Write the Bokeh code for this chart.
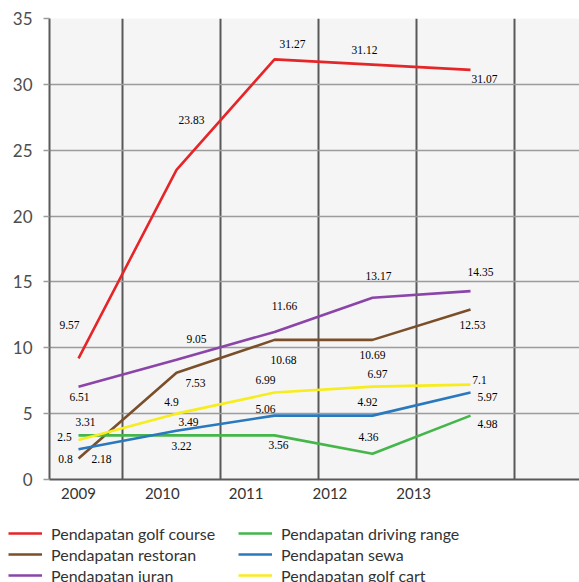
from bokeh.plotting import figure
from bokeh.layouts import column, row
from bokeh.models import (ColumnDataSource, FixedTicker, Legend, LegendItem,
                          LabelSet, Range1d)
from bokeh.embed import file_html
from bokeh.resources import INLINE

# ---------------- data ----------------
years = ["2009", "2010", "2011", "2012", "2013"]

series_names = [
    "Pendapatan golf course",
    "Pendapatan restoran",
    "Pendapatan iuran",
    "Pendapatan driving range",
    "Pendapatan sewa",
    "Pendapatan golf cart",
]

# values as drawn by the lines
golf_course = [9.2, 23.5, 31.9, 31.5, 31.1]
restoran = [1.6, 8.1, 10.6, 10.6, 12.9]
iuran = [7.05, 9.1, 11.2, 13.8, 14.3]
driving_range = [3.35, 3.35, 3.35, 1.95, 4.85]
sewa = [2.3, 3.7, 4.85, 4.85, 6.6]
golf_cart = [3.0, 5.0, 6.6, 7.05, 7.2]

# value labels printed on the chart
golf_course_labels = ["9.57", "23.83", "31.27", "31.12", "31.07"]
restoran_labels = ["0.8", "7.53", "10.68", "10.69", "12.53"]
iuran_labels = ["6.51", "9.05", "11.66", "13.17", "14.35"]
driving_range_labels = ["2.5", "3.49", "3.56", "4.36", "4.98"]
sewa_labels = ["2.18", "3.22", "5.06", "4.92", "5.97"]
golf_cart_labels = ["3.31", "4.9", "6.99", "6.97", "7.1"]

y_ticks = [0, 5, 10, 15, 20, 25, 30, 35]

# ---------------- styling / layout ----------------
colors = ["#e52528", "#7a4f2a", "#8b44a8", "#45b64a", "#2a78bd", "#f7ec1c"]

# label offsets in screen pixels (dx right, dy up) per series
label_dx = [
    [-9, 15, 18, -8, 14],
    [-13, 19, 9, 0, 2],
    [1, 20, 10, 6, 10],
    [-14, 12, 4, -4, 17],
    [23, 5, -9, -5, 17],
    [7, -5, -9, 5, 9],
]
label_dy = [
    [33, 50, 15, 15, -9],
    [-1, -10, -20, -15, -15],
    [-10, 21, 26, 22, 19],
    [-2, 13, -10, 17, -8],
    [-10, -15, 7, 14, -4],
    [18, 12, 13, 13, 5],
]

FONT = "Lato"
LABEL_FONT = "Noto Sans"
xs = list(range(len(years)))
tick_step = 0.855
tick_pos = [i * tick_step for i in xs]

p = figure(width=579, height=506, output_backend="svg", toolbar_location=None,
           x_range=Range1d(-0.296, 5.112), y_range=Range1d(0, 35),
           min_border=0)
p.min_border_left = 49
p.min_border_right = 0
p.min_border_top = 18
p.min_border_bottom = 27

p.background_fill_color = "#f5f5f5"
p.border_fill_color = "white"
p.outline_line_color = None

# grids
p.ygrid.ticker = FixedTicker(ticks=y_ticks)
p.ygrid.grid_line_color = "#9c9c9c"
p.ygrid.grid_line_width = 1.5
p.xgrid.ticker = FixedTicker(ticks=[i + 0.445 for i in xs])
p.xgrid.grid_line_color = "#585858"
p.xgrid.grid_line_width = 2

# y axis
p.yaxis.ticker = FixedTicker(ticks=y_ticks)
p.yaxis.axis_line_color = "#5a5a5a"
p.yaxis.axis_line_width = 2
p.yaxis.major_tick_line_color = "#9c9c9c"
p.yaxis.major_tick_line_width = 1.5
p.yaxis.major_tick_out = 6
p.yaxis.major_tick_in = 0
p.yaxis.minor_tick_line_color = None
p.yaxis.major_label_standoff = 11
p.yaxis.major_label_text_font = FONT
p.yaxis.major_label_text_font_size = "17px"
p.yaxis.major_label_text_color = "#4d4d4d"

# x axis
p.xaxis.ticker = FixedTicker(ticks=tick_pos)
p.xaxis.major_label_overrides = {tp: y for tp, y in zip(tick_pos, years)}
p.xaxis.axis_line_color = "#5a5a5a"
p.xaxis.axis_line_width = 2
p.xaxis.major_tick_line_color = None
p.xaxis.major_tick_out = 0
p.xaxis.major_tick_in = 0
p.xaxis.minor_tick_line_color = None
p.xaxis.major_label_standoff = 8
p.xaxis.major_label_text_font = FONT
p.xaxis.major_label_text_font_size = "15px"
p.xaxis.major_label_text_color = "#333333"

all_values = [golf_course, restoran, iuran, driving_range, sewa, golf_cart]
all_labels = [golf_course_labels, restoran_labels, iuran_labels,
              driving_range_labels, sewa_labels, golf_cart_labels]

for vals, col in zip(all_values, colors):
    p.line(xs, vals, line_color=col, line_width=2.6)

lx, ly, lt, ldx, ldy = [], [], [], [], []
for vals, labs, dxs, dys in zip(all_values, all_labels, label_dx, label_dy):
    for i in xs:
        lx.append(i)
        ly.append(vals[i])
        lt.append(labs[i])
        ldx.append(dxs[i])
        ldy.append(dys[i])
lsrc = ColumnDataSource(dict(x=lx, y=ly, text=lt, dx=ldx, dy=ldy))
labels = LabelSet(x="x", y="y", text="text", x_offset="dx", y_offset="dy",
                  source=lsrc, text_align="center", text_baseline="middle",
                  text_font=LABEL_FONT, text_font_size="11.5px",
                  text_color="#000000")
p.add_layout(labels)

# ---------------- legend strip below the chart ----------------
lg = figure(width=579, height=76, output_backend="svg", toolbar_location=None,
            x_range=Range1d(0, 1), y_range=Range1d(0, 1), min_border=0,
            x_axis_location=None, y_axis_location=None)
lg.min_border_left = 0
lg.min_border_right = 0
lg.min_border_top = 0
lg.min_border_bottom = 0
lg.grid.visible = False
lg.outline_line_color = None
lg.background_fill_color = "white"
lg.border_fill_color = "white"

# off-range placeholder lines, only used to draw the legend swatches
legend_renderers = [lg.line(x=[-2, -1], y=[-2, -1], line_color=c, line_width=2.6)
                    for c in colors]
items = [LegendItem(label=n, renderers=[r]) for n, r in zip(series_names, legend_renderers)]
legend = Legend(items=items, location=(8, -3), orientation="vertical",
                nrows=3, glyph_width=34, glyph_height=20, label_height=20,
                label_width=186, label_standoff=9, spacing=1, padding=0, margin=0,
                label_text_font=FONT, label_text_font_size="16px",
                label_text_color="#333333", border_line_color=None,
                background_fill_alpha=0)
lg.add_layout(legend)

layout = column(row(p), row(lg), spacing=0)
open("out.html", "w").write(file_html(layout, INLINE))
